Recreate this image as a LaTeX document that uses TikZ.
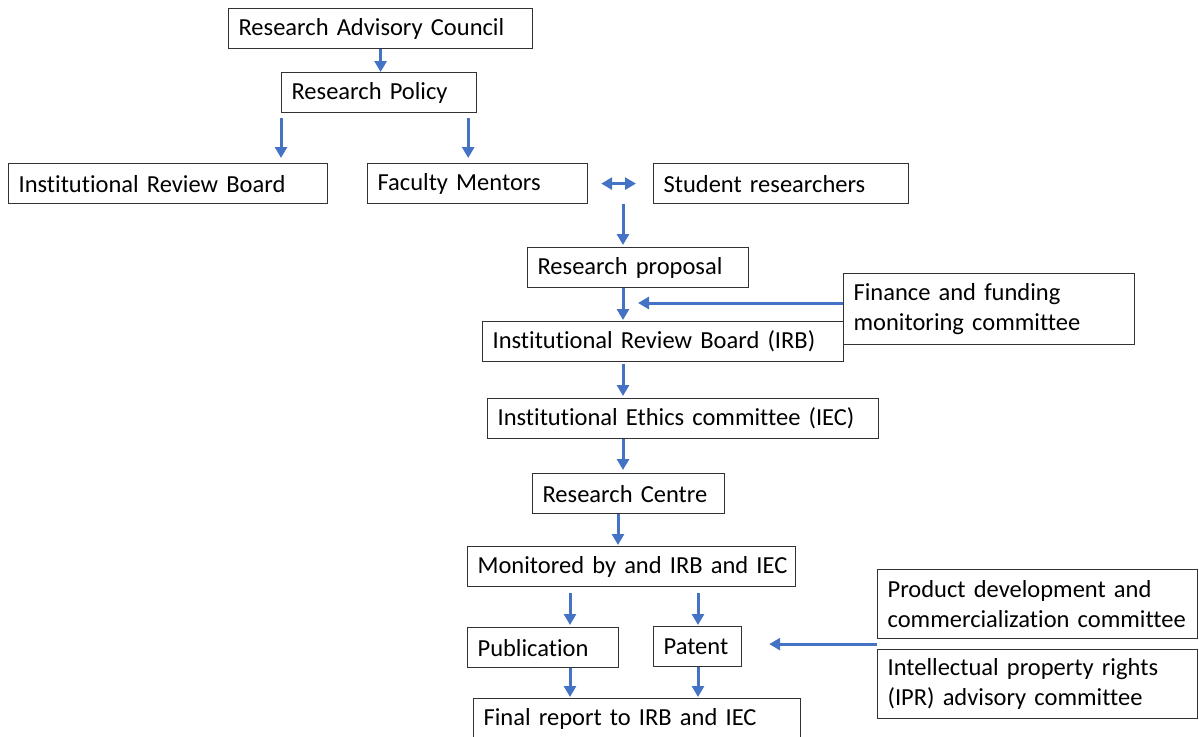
\documentclass[tikz,border=0pt]{standalone}
\usepackage{fontspec}
\setmainfont{Carlito}[Ligatures={NoCommon}]
\usetikzlibrary{arrows.meta,calc}
\definecolor{arrblue}{RGB}{68,114,196}
\definecolor{boxline}{RGB}{50,50,50}
\tikzset{
  box/.style={draw=boxline, line width=1.2pt, rectangle, anchor=north west, inner xsep=10pt, inner ysep=0pt, align=left, font=\fontsize{24.5}{30}\selectfont},
  arr/.style={draw=arrblue, line width=3pt, -{Triangle[length=11pt,width=12pt]}},
  darr/.style={draw=arrblue, line width=3pt, {Triangle[length=11pt,width=12pt]}-{Triangle[length=11pt,width=12pt]}}
}
\begin{document}
\begin{tikzpicture}[x=1pt,y=-1pt]
\useasboundingbox (0,0) rectangle (1199,736);
\node[box, minimum height=40pt, text width=284pt] (rac) at (228,8) {Research Advisory Council};
\node[box, minimum height=40pt, text width=175pt] (rp) at (281,72) {Research Policy};
\node[box, minimum height=40pt, text width=299pt] (irbA) at (8,163) {Institutional Review Board};
\node[box, minimum height=40pt, text width=200pt] (fm) at (367,163) {Faculty Mentors};
\node[box, minimum height=40pt, text width=235pt] (stu) at (653,163) {Student researchers};
\node[box, minimum height=40pt, text width=201pt] (prop) at (527,247) {Research proposal};
\node[box, minimum height=71pt, text width=271pt] (fin) at (843,273) {Finance and funding\\monitoring committee};
\node[box, minimum height=40pt, text width=341pt] (irb) at (482,321) {\mbox{Institutional Review Board (IRB)}};
\node[box, minimum height=40pt, text width=371pt] (iec) at (487,398) {\mbox{Institutional Ethics committee (IEC)}};
\node[box, minimum height=40pt, text width=172pt] (rc) at (532,473) {Research Centre};
\node[box, minimum height=40pt, text width=308pt] (mon) at (467,546) {\mbox{Monitored by and IRB and IEC}};
\node[box, minimum height=40pt, text width=131pt] (pub) at (467,627) {Publication};
\node[box, minimum height=40pt, text width=68pt] (pat) at (653,626) {Patent};
\node[box, minimum height=69pt, text width=300pt] (prod) at (877,569) {\mbox{Product development and}\\\mbox{commercialization committee}};
\node[box, minimum height=69pt, text width=300pt] (ipr) at (877,649) {Intellectual property rights\\(IPR) advisory committee};
\node[box, minimum height=40pt, text width=307pt] (fin2) at (473,698) {\mbox{Final report to IRB and IEC}};
\coordinate (c1) at (623,0);
\coordinate (c2) at (618,0);
\coordinate (c3) at (570,0);
\coordinate (c4) at (698,0);
\coordinate (fend) at (638,303);
\coordinate (pp) at ($(prod.south west)!0.5!(ipr.north west)$);
\draw[arr] (rac.south) -- (rac.south |- rp.north);
\draw[arr, shorten <=5pt, shorten >=5pt] (rp.south west) -- (rp.south west |- irbA.north);
\draw[arr, shorten <=5pt, shorten >=5pt] ([xshift=-9pt]rp.south east) -- ([xshift=-9pt]rp.south east |- fm.north);
\draw[darr, shorten <=13pt, shorten >=17pt] (fm.east) -- (stu.west);
\draw[arr, shorten >=2pt] (stu.south -| c1) -- (prop.north -| c1);
\draw[arr, shorten >=1pt] (prop.south -| c1) -- (irb.north -| c1);
\draw[arr, shorten <=2pt, shorten >=2pt] (irb.south -| c1) -- (iec.north -| c1);
\draw[arr, shorten >=3pt] (iec.south -| c1) -- (rc.north -| c1);
\draw[arr, shorten >=1pt] (rc.south -| c2) -- (mon.north -| c2);
\draw[arr, shorten <=6pt, shorten >=2pt] (mon.south -| c3) -- (pub.north -| c3);
\draw[arr, shorten <=6pt, shorten >=1pt] (mon.south -| c4) -- (pat.north -| c4);
\draw[arr, shorten >=1pt] (pub.south -| c3) -- (fin2.north -| c3);
\draw[arr, shorten >=1pt] (pat.south -| c4) -- (fin2.north -| c4);
\draw[arr] (fin.west |- fend) -- (fend);
\draw[arr, shorten >=27pt] (pp) -- (pp -| pat.east);
\end{tikzpicture}
\end{document}
